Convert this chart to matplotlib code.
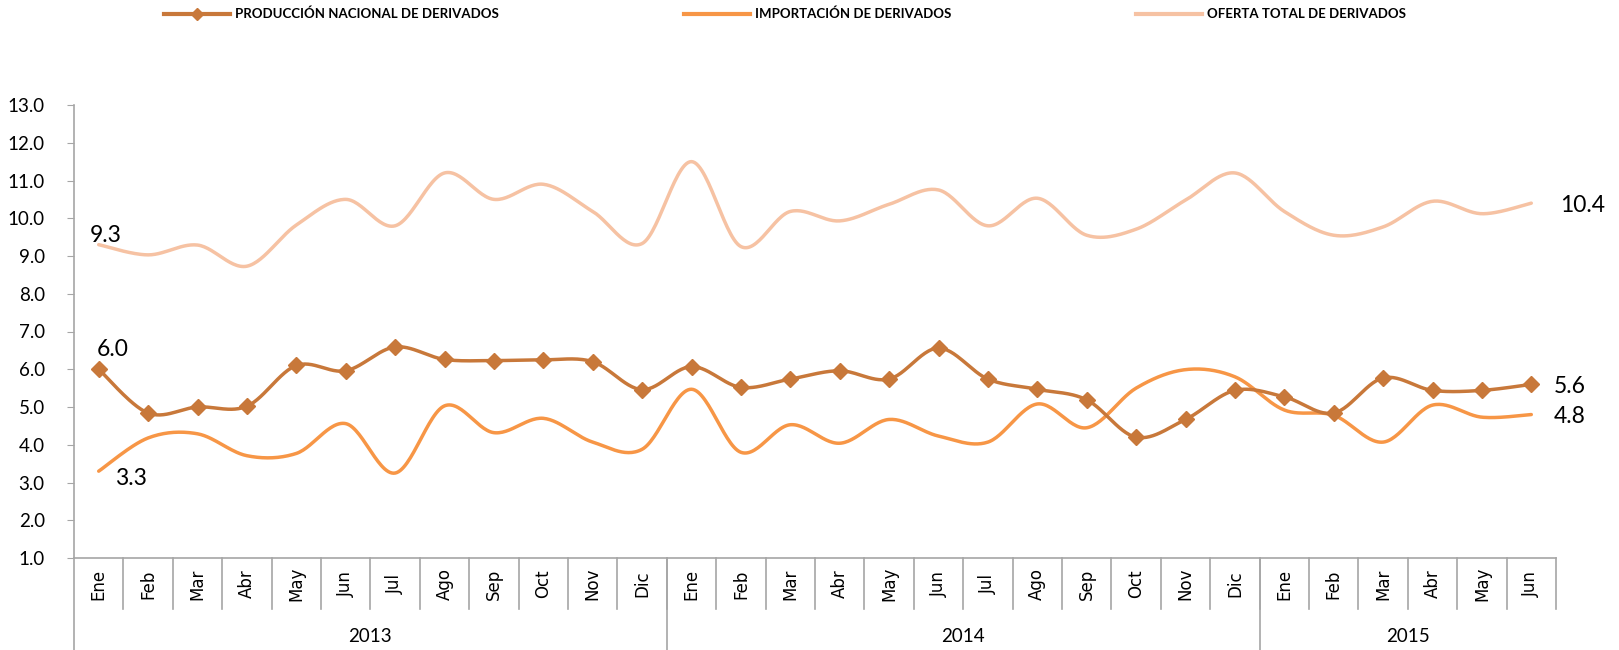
import numpy as np
import matplotlib
matplotlib.use("Agg")
import matplotlib.pyplot as plt
import matplotlib.transforms as mtrans
from matplotlib.lines import Line2D

# data (millones de barriles / mes)
months = ["Ene", "Feb", "Mar", "Abr", "May", "Jun", "Jul", "Ago", "Sep", "Oct", "Nov", "Dic",
          "Ene", "Feb", "Mar", "Abr", "May", "Jun", "Jul", "Ago", "Sep", "Oct", "Nov", "Dic",
          "Ene", "Feb", "Mar", "Abr", "May", "Jun"]
years = ["2013", "2014", "2015"]
year_len = [12, 12, 6]

produccion = [6.0, 4.84, 5.0, 5.02, 6.1, 5.96, 6.59, 6.26, 6.23, 6.25, 6.2, 5.46,
              6.07, 5.52, 5.74, 5.96, 5.74, 6.56, 5.74, 5.47, 5.19, 4.2, 4.67, 5.44,
              5.27, 4.84, 5.77, 5.44, 5.44, 5.6]
importacion = [3.3, 4.18, 4.29, 3.71, 3.77, 4.56, 3.25, 5.03, 4.32, 4.7, 4.07, 3.88,
               5.47, 3.8, 4.53, 4.04, 4.67, 4.23, 4.07, 5.08, 4.45, 5.5, 5.99, 5.8,
               4.92, 4.78, 4.07, 5.05, 4.73, 4.8]
oferta = [9.3, 9.03, 9.29, 8.73, 9.82, 10.5, 9.8, 11.2, 10.5, 10.9, 10.18, 9.33,
          11.5, 9.25, 10.18, 9.93, 10.37, 10.75, 9.8, 10.53, 9.55, 9.71, 10.48, 11.2,
          10.18, 9.55, 9.77, 10.45, 10.12, 10.4]

names = ["PRODUCCIÓN NACIONAL DE DERIVADOS", "IMPORTACIÓN DE DERIVADOS", "OFERTA TOTAL DE DERIVADOS"]
colors = ["#C8783A", "#F79646", "#F6C2A3"]


def smooth(x, y, n=30):
    # bezier smoothing like the spreadsheet "smoothed line" option
    x = np.asarray(x, float)
    y = np.asarray(y, float)
    px, py = [], []
    for i in range(len(x) - 1):
        i0 = max(i - 1, 0)
        i3 = min(i + 2, len(x) - 1)
        c1x = x[i] + (x[i + 1] - x[i0]) / 6
        c1y = y[i] + (y[i + 1] - y[i0]) / 6
        c2x = x[i + 1] - (x[i3] - x[i]) / 6
        c2y = y[i + 1] - (y[i3] - y[i]) / 6
        t = np.linspace(0, 1, n)
        a, b, c, d = (1 - t) ** 3, 3 * t * (1 - t) ** 2, 3 * t ** 2 * (1 - t), t ** 3
        px.extend(a * x[i] + b * c1x + c * c2x + d * x[i + 1])
        py.extend(a * y[i] + b * c1y + c * c2y + d * y[i + 1])
    return np.array(px), np.array(py)


fig = plt.figure(figsize=(16.19, 6.5), dpi=100)
ax = fig.add_axes([74 / 1619, 1 - 558 / 650, 1482 / 1619, 453 / 650])

x = np.arange(len(months))
for vals, col in zip([oferta, importacion, produccion], [colors[2], colors[1], colors[0]]):
    sx, sy = smooth(x, vals)
    ax.plot(sx, sy, color=col, lw=2.5, solid_capstyle="round")
ax.plot(x, produccion, ls="none", marker="D", ms=8.5, color=colors[0])

ax.set_xlim(-0.5, len(months) - 0.5)
ax.set_ylim(1, 13)
ax.set_yticks(np.arange(1, 13.5, 1))
ax.set_yticklabels(["%.1f" % v for v in np.arange(1, 13.5, 1)], family="Lato", fontsize=13.5)
ax.tick_params(axis="y", length=5, color="#A6A6A6", pad=16)
ax.set_xticks([])
for s in ["top", "right"]:
    ax.spines[s].set_visible(False)
for s in ["left", "bottom"]:
    ax.spines[s].set_color("#A6A6A6")
    ax.spines[s].set_linewidth(1.2)

# two-level category axis
tr = mtrans.blended_transform_factory(ax.transData, ax.transAxes)
h = 453.0
for i, m in enumerate(months):
    ax.text(i, -26 / h, m, transform=tr, rotation=90, ha="center", va="center",
            fontsize=12, family="DejaVu Sans")
for k in range(1, len(months) + 1):
    ax.add_line(Line2D([k - 0.5, k - 0.5], [0, -51 / h], transform=tr, color="#A6A6A6",
                       lw=1.2, clip_on=False))
start = 0
for yr, n in zip(years, year_len):
    ax.add_line(Line2D([start - 0.5, start - 0.5], [0, -92 / h], transform=tr, color="#A6A6A6",
                       lw=1.2, clip_on=False))
    ax.text(start + n / 2 - 0.5, -79 / h, yr, transform=tr, ha="center", va="center",
            fontsize=13.5, family="Lato")
    start += n

# data labels at both ends
lab = dict(textcoords="offset pixels", ha="center", va="center", fontsize=16.5, family="Lato")
ax.annotate("%.1f" % oferta[0], (0, oferta[0]), xytext=(7, 9), **lab)
ax.annotate("%.1f" % produccion[0], (0, produccion[0]), xytext=(14, 20), **lab)
ax.annotate("%.1f" % importacion[0], (0, importacion[0]), xytext=(32, -7), **lab)
last = len(months) - 1
ax.annotate("%.1f" % oferta[-1], (last, oferta[-1]), xytext=(51, -2), **lab)
ax.annotate("%.1f" % produccion[-1], (last, produccion[-1]), xytext=(38, -2), **lab)
ax.annotate("%.1f" % importacion[-1], (last, importacion[-1]), xytext=(38, -2), **lab)

handles = [Line2D([], [], color=colors[0], lw=3, marker="D", ms=6),
           Line2D([], [], color=colors[1], lw=3),
           Line2D([], [], color=colors[2], lw=3)]
fig.legend(handles, names, loc="center left", bbox_to_anchor=(152 / 1619, 1 - 14 / 650), ncol=3,
           frameon=False, handlelength=5, handletextpad=0.4, columnspacing=14,
           prop=dict(family="Lato", weight="bold", size=9.5))

fig.savefig("out.png", dpi=100)
